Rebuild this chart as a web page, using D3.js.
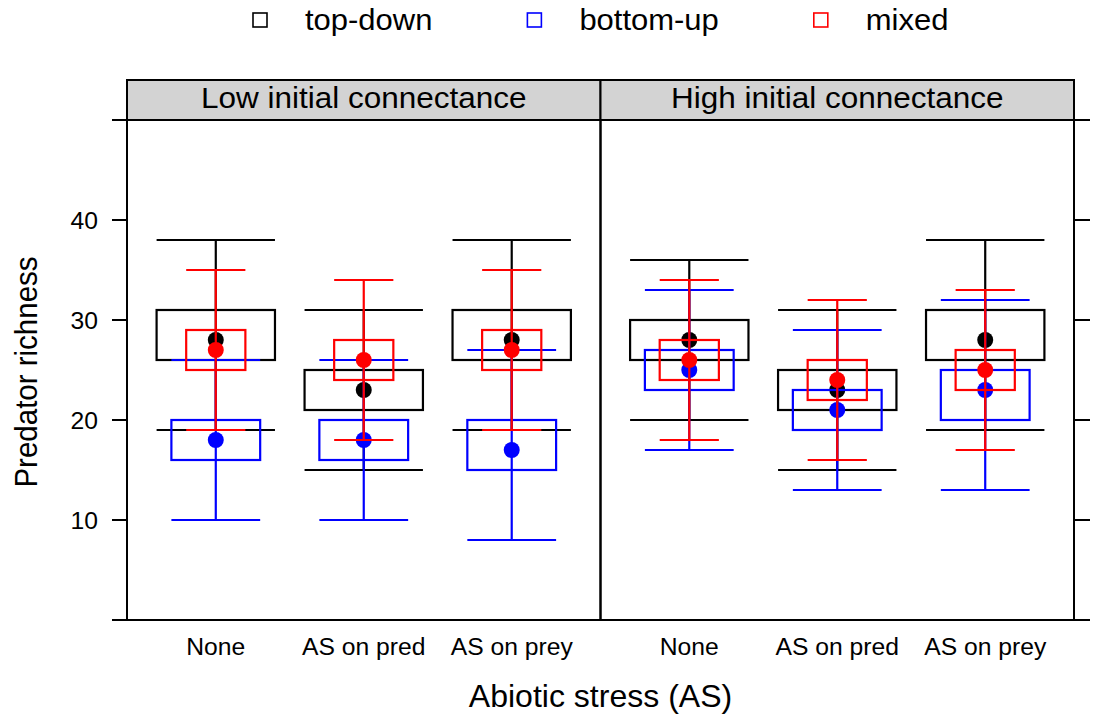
<!DOCTYPE html>
<html>
<head>
<meta charset="utf-8">
<script src="https://cdn.jsdelivr.net/npm/d3@7"></script>
<style>
  body { margin: 0; background: #fff; }
  text { font-family: "Liberation Sans", Arial, sans-serif; fill: #000; }
</style>
</head>
<body>
<svg id="chart" width="1094" height="717"></svg>
<script>
const panels = ['Low initial connectance', 'High initial connectance'];
const stress = ['None', 'AS on pred', 'AS on prey'];
const groups = ['top-down', 'bottom-up', 'mixed'];
const yTicks = [10, 20, 30, 40];

// one row per panel x stress level: [lower whisker, box low, box high, upper whisker, point]
const topDown = [
    [19, 26, 31, 38, 28], [15, 21, 25, 31, 23], [19, 26, 31, 38, 28],
    [20, 26, 30, 36, 28], [15, 21, 25, 31, 23], [19, 26, 31, 38, 28]
];
const bottomUp = [
    [10, 16, 20, 26, 18], [10, 16, 20, 26, 18], [8, 15, 20, 27, 17],
    [17, 23, 27, 33, 25], [13, 19, 23, 29, 21], [13, 20, 25, 32, 23]
];
const mixed = [
    [19, 25, 29, 35, 27], [18, 24, 28, 34, 26], [19, 25, 29, 35, 27],
    [18, 24, 28, 34, 26], [16, 22, 26, 32, 24], [17, 23, 27, 33, 25]
];

const series = [topDown, bottomUp, mixed];
const colors = ['#000000', '#0000ff', '#ff0000'];
const boxWidths = [0.8, 0.6, 0.4];
const sx = 1.05; // the reference text is slightly wide

const svg = d3.select('#chart');
const plotLeft = 127, plotRight = 1074, plotTop = 120, plotBottom = 620, stripTop = 80;
const panelW = (plotRight - plotLeft) / panels.length;

const y = d3.scaleLinear().domain([0, 50]).range([plotBottom, plotTop]);

function label(g, x, yy, str, size, anchor, rot) {
    return g.append('text')
        .attr('transform', `translate(${x},${yy}) scale(${sx},1)` + (rot ? ` rotate(${rot})` : ''))
        .attr('text-anchor', anchor || 'middle')
        .attr('font-size', size + 'px')
        .text(str);
}

panels.forEach((p, pi) => {
    const x0 = plotLeft + pi * panelW;
    const x = d3.scaleLinear().domain([0.4, 3.6]).range([x0, x0 + panelW]);
    const g = svg.append('g');

    // strip
    g.append('rect')
        .attr('x', x0).attr('y', stripTop)
        .attr('width', panelW).attr('height', plotTop - stripTop)
        .attr('fill', '#d3d3d3').attr('stroke', '#000').attr('stroke-width', 2);
    label(g, x0 + panelW / 2, 108, p, 30);

    series.forEach((rows, si) => {
        const w = boxWidths[si];
        stress.forEach((s, ci) => {
            const d = rows[pi * stress.length + ci];
            const c = ci + 1;
            const grp = g.append('g').attr('stroke', colors[si]).attr('stroke-width', 2.2).attr('fill', 'none');
            grp.append('line')
                .attr('x1', x(c)).attr('x2', x(c))
                .attr('y1', y(d[0])).attr('y2', y(d[3]));
            grp.append('rect')
                .attr('x', x(c - w / 2)).attr('width', x(c + w / 2) - x(c - w / 2))
                .attr('y', y(d[2])).attr('height', y(d[1]) - y(d[2]));
            [d[0], d[3]].forEach(v => {
                grp.append('line')
                    .attr('x1', x(c - w / 2)).attr('x2', x(c + w / 2))
                    .attr('y1', y(v)).attr('y2', y(v));
            });
            g.append('circle')
                .attr('cx', x(c)).attr('cy', y(d[4])).attr('r', 8)
                .attr('fill', colors[si]);
        });
    });

    // panel border
    g.append('rect')
        .attr('x', x0).attr('y', plotTop)
        .attr('width', panelW).attr('height', plotBottom - plotTop)
        .attr('fill', 'none').attr('stroke', '#000').attr('stroke-width', 2);

    stress.forEach((s, ci) => label(g, x(ci + 1), 655, s, 23.5));
});

// y axis ticks on both sides
const tickVals = d3.range(0, 51, 10);
tickVals.forEach(v => {
    svg.append('line').attr('x1', plotLeft - 15).attr('x2', plotLeft).attr('y1', y(v)).attr('y2', y(v))
        .attr('stroke', '#000').attr('stroke-width', 2);
    svg.append('line').attr('x1', plotRight).attr('x2', plotRight + 16).attr('y1', y(v)).attr('y2', y(v))
        .attr('stroke', '#000').attr('stroke-width', 2);
});
yTicks.forEach(v => label(svg, 98, y(v) + 8.5, v, 23.5, 'end'));

// axis titles
label(svg, (plotLeft + plotRight) / 2, 707, 'Abiotic stress (AS)', 30.5);
label(svg, 37, 372, 'Predator richness', 29.5, 'middle', -90);

// legend
const legend = svg.append('g');
let lx = 253;
groups.forEach((name, i) => {
    legend.append('rect')
        .attr('x', lx).attr('y', 13).attr('width', 14).attr('height', 14)
        .attr('fill', 'none').attr('stroke', colors[i]).attr('stroke-width', 1.6);
    const t = label(legend, lx + 52, 30, name, 29.5, 'start');
    const tw = t.node().getComputedTextLength() * sx;
    lx = lx + 52 + tw + 95;
});
</script>
</body>
</html>
